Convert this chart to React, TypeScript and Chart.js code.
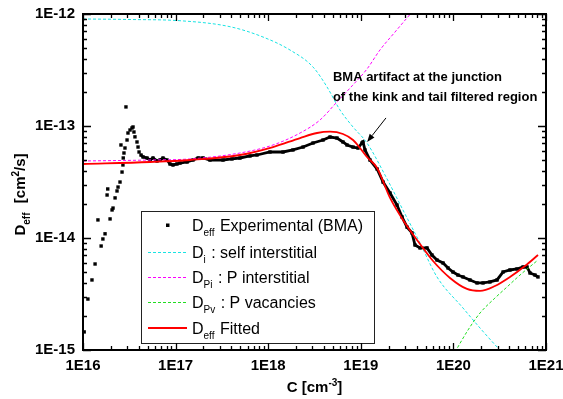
import React, { useEffect, useRef } from 'react';
import { Chart, registerables } from 'chart.js';

Chart.register(...registerables);

const FF = '"Liberation Sans", Arial, Helvetica, sans-serif';

// ---- Axis ticks ----
const xTickValues = [1e16, 1e17, 1e18, 1e19, 1e20, 1e21];
const xTickLabels = ['1E16', '1E17', '1E18', '1E19', '1E20', '1E21'];
const yTickValues = [1e-15, 1e-14, 1e-13, 1e-12];
const yTickLabels = ['1E-15', '1E-14', '1E-13', '1E-12'];

// ---- Experimental (BMA) ----
const expC = [
  1.03e16, 1.13e16, 1.25e16, 1.35e16, 1.45e16, 1.57e16, 1.64e16, 1.73e16, 1.82e16, 1.85e16,
  1.96e16, 2.06e16, 2.11e16, 2.22e16, 2.33e16, 2.39e16, 2.51e16, 2.57e16, 2.64e16, 2.70e16,
  2.72e16, 2.77e16, 2.84e16, 2.91e16, 2.99e16, 3.06e16, 3.22e16, 3.38e16, 3.47e16, 3.55e16,
  3.64e16, 3.83e16, 3.93e16, 4.03e16, 4.23e16, 4.45e16, 4.91e16, 5.29e16, 5.70e16, 6.30e16,
  6.78e16, 7.31e16, 8.07e16, 8.70e16, 9.37e16, 1.035e17, 1.115e17, 1.33e17, 1.54e17, 1.75e17,
  1.98e17, 2.35e17, 3.25e17, 4.06e17, 4.95e17, 6.36e17, 7.57e17, 1.045e18, 1.445e18, 1.85e18,
  2.38e18, 3.05e18, 3.91e18, 4.65e18, 5.53e18, 6.42e18, 7.10e18, 8.24e18, 9.33e18, 1.03e19,
  1.056e19, 1.11e19, 1.257e19, 1.50e19, 1.74e19, 2.07e19, 2.46e19, 2.79e19, 3.16e19, 3.57e19,
  3.85e19, 4.36e19, 5.19e19, 5.87e19, 6.65e19, 7.73e19, 8.75e19, 9.9e19, 1.12e20, 1.27e20,
  1.51e20, 1.80e20, 2.09e20, 2.48e20, 2.96e20, 3.44e20, 4.08e20, 4.86e20, 5.65e20, 6.24e20,
  6.72e20, 7.60e20, 8.20e20,
];
const expD = [
  1.45e-15, 2.85e-15, 4.22e-15, 5.86e-15, 1.45e-14, 8.48e-15, 9.80e-15, 1.09e-14, 2.42e-14, 2.74e-14,
  1.48e-14, 1.78e-14, 1.85e-14, 2.28e-14, 2.63e-14, 2.85e-14, 3.16e-14, 6.77e-14, 3.88e-14, 4.49e-14,
  5.18e-14, 5.74e-14, 6.36e-14, 1.48e-13, 7.50e-14, 8.66e-14, 9.21e-14, 9.60e-14, 9.80e-14, 8.84e-14,
  8.0e-14, 7.2e-14, 6.49e-14, 5.86e-14, 5.51e-14, 5.29e-14, 5.18e-14, 4.97e-14, 5.18e-14, 4.87e-14,
  4.97e-14, 5.18e-14, 4.97e-14, 4.58e-14, 4.49e-14, 4.58e-14, 4.67e-14, 4.77e-14, 4.97e-14, 5.18e-14,
  5.18e-14, 4.97e-14, 4.97e-14, 5.08e-14, 5.18e-14, 5.40e-14, 5.51e-14, 5.86e-14, 5.86e-14, 6.11e-14,
  6.49e-14, 7.05e-14, 7.50e-14, 7.97e-14, 7.81e-14, 7.20e-14, 6.77e-14, 6.49e-14, 6.36e-14, 7.05e-14,
  7.20e-14, 6.11e-14, 4.97e-14, 4.13e-14, 3.16e-14, 2.52e-14, 1.97e-14, 1.54e-14, 1.25e-14, 1.11e-14,
  8.66e-15, 8.15e-15, 8.15e-15, 7.05e-15, 6.36e-15, 5.98e-15, 5.40e-15, 4.97e-15, 4.67e-15, 4.49e-15,
  4.22e-15, 3.97e-15, 3.97e-15, 4.05e-15, 4.22e-15, 4.97e-15, 5.18e-15, 5.29e-15, 5.51e-15, 5.51e-15,
  4.87e-15, 4.67e-15, 4.49e-15,
];

// ---- D_i : self interstitial ----
const diC = [1e16, 3.22e16, 1.115e17, 3.87e17, 8.79e17, 1.72e18, 3.05e18, 4.32e18, 5.96e18, 8.24e18,
  1.167e19, 1.825e19, 3.00e19, 4.36e19, 6.65e19, 1.27e20, 1.94e20, 3.18e20, 4.62e20];
const diD = [9.03e-13, 8.93e-13, 8.71e-13, 7.70e-13, 6.23e-13, 4.77e-13, 3.36e-13, 2.23e-13, 1.39e-13, 9.80e-14,
  7.05e-14, 3.65e-14, 1.64e-14, 9.03e-15, 4.49e-15, 2.37e-15, 1.57e-15, 1.0e-15, 7.35e-16];

// ---- D_Pi : P interstitial ----
const dpiC = [1e16, 5.29e16, 1.43e17, 4.95e17, 1.127e18, 2.21e18, 3.62e18, 5.53e18, 8.04e18, 1.167e19,
  1.61e19, 2.34e19, 3.57e19];
const dpiD = [4.87e-14, 4.97e-14, 5.08e-14, 5.74e-14, 6.77e-14, 8.66e-14, 1.13e-13, 1.64e-13, 2.28e-13, 3.23e-13,
  4.77e-13, 6.90e-13, 1.04e-12];

// ---- D_Pv : P vacancies ----
const dpvC = [1.04e20, 1.44e20, 1.94e20, 2.81e20, 3.79e20, 5.24e20, 8.20e20];
const dpvD = [9.59e-16, 1.51e-15, 2.14e-15, 2.91e-15, 3.65e-15, 4.67e-15, 6.36e-15];

// ---- D_eff fitted ----
const fitC = [1e16, 5.29e16, 1.43e17, 4.95e17, 1.127e18, 2.21e18, 3.37e18, 4.65e18, 6.42e18, 8.24e18,
  9.80e18, 1.167e19, 1.50e19, 2.07e19, 3.00e19, 4.36e19, 6.03e19, 9.19e19, 1.40e20, 1.94e20,
  2.81e20, 4.08e20, 5.93e20, 8.20e20];
const fitD = [4.58e-14, 4.77e-14, 4.97e-14, 5.51e-14, 6.49e-14, 7.81e-14, 8.66e-14, 8.89e-14, 8.48e-14, 7.50e-14,
  6.36e-14, 5.29e-14, 4.22e-14, 2.28e-14, 1.36e-14, 8.84e-15, 6.23e-15, 4.40e-15, 3.51e-15, 3.37e-15,
  3.73e-15, 4.49e-15, 5.62e-15, 7.05e-15];

// ---- Annotation ----
const noteLines = ['BMA artifact at the junction', 'of the kink and tail filtered region'];
const noteAnchorC = 5.0e18;
const noteLineD = [2.52e-13, 1.67e-13];
const arrowTail = { x: 1.87e19, y: 1.18e-13 };
const arrowTip = { x: 1.17e19, y: 7.2e-14 };

type Seg = { t: string; sub?: boolean; sup?: boolean };
const legendRows: { kind: 'point' | 'line'; color: string; dash: number[]; label: Seg[] }[] = [
  { kind: 'point', color: '#000000', dash: [], label: [{ t: 'D' }, { t: 'eff', sub: true }, { t: ' Experimental (BMA)' }] },
  { kind: 'line', color: '#19e3e3', dash: [3, 2], label: [{ t: 'D' }, { t: 'i', sub: true }, { t: ' : self interstitial' }] },
  { kind: 'line', color: '#ff00ff', dash: [3, 2], label: [{ t: 'D' }, { t: 'Pi', sub: true }, { t: ' : P interstitial' }] },
  { kind: 'line', color: '#22dd22', dash: [3, 2], label: [{ t: 'D' }, { t: 'Pv', sub: true }, { t: ' : P vacancies' }] },
  { kind: 'line', color: '#ff0000', dash: [], label: [{ t: 'D' }, { t: 'eff', sub: true }, { t: ' Fitted' }] },
];
const xTitle: Seg[] = [{ t: 'C [cm' }, { t: '-3', sup: true }, { t: ']' }];
const yTitle: Seg[] = [{ t: 'D' }, { t: 'eff', sub: true }, { t: '  [cm' }, { t: '2', sup: true }, { t: '/s]' }];

const toPts = (xs: number[], ys: number[]) => xs.map((x, i) => ({ x, y: ys[i] }));

function segFont(s: Seg, size: number, small: number, bold: boolean) {
  return `${bold ? 'bold ' : ''}${s.sub || s.sup ? small : size}px ${FF}`;
}
function richWidth(ctx: CanvasRenderingContext2D, segs: Seg[], size: number, small: number, bold: boolean) {
  let w = 0;
  for (const s of segs) {
    ctx.font = segFont(s, size, small, bold);
    w += ctx.measureText(s.t).width;
  }
  return w;
}
function drawRich(ctx: CanvasRenderingContext2D, segs: Seg[], x: number, y: number, size: number, small: number, bold: boolean) {
  let cx = x;
  for (const s of segs) {
    ctx.font = segFont(s, size, small, bold);
    const dy = s.sub ? size * 0.33 : s.sup ? -size * 0.42 : 0;
    ctx.fillText(s.t, cx, y + dy);
    cx += ctx.measureText(s.t).width + (s.sub ? 1 : 0);
  }
}

const decor = {
  id: 'decor',
  afterDraw(chart: any) {
    const { ctx, chartArea, scales } = chart;
    const { left, right, top, bottom } = chartArea;
    const xs = scales.x;
    const ys = scales.y;
    ctx.save();

    // Legend
    const lx0 = 141, ly0 = 211, lx1 = 374, ly1 = 343;
    ctx.fillStyle = '#ffffff';
    ctx.fillRect(lx0, ly0, lx1 - lx0, ly1 - ly0);
    ctx.strokeStyle = '#222';
    ctx.lineWidth = 1;
    ctx.setLineDash([]);
    ctx.strokeRect(lx0 + 0.5, ly0 + 0.5, lx1 - lx0, ly1 - ly0);
    const rowY = [225, 252, 277, 302, 328];
    legendRows.forEach((r, i) => {
      const cy = rowY[i];
      if (r.kind === 'point') {
        ctx.fillStyle = r.color;
        ctx.fillRect(166, cy - 1.5, 3.5, 3.5);
      } else {
        ctx.strokeStyle = r.color;
        const dashed = r.dash.length > 0;
        ctx.lineWidth = dashed ? 1.2 : 1.8;
        ctx.setLineDash(r.dash);
        ctx.beginPath();
        ctx.moveTo(148, cy + (dashed ? 0.5 : 0));
        ctx.lineTo(187, cy + (dashed ? 0.5 : 0));
        ctx.stroke();
        ctx.setLineDash([]);
      }
      ctx.fillStyle = '#000';
      ctx.textAlign = 'left';
      ctx.textBaseline = 'alphabetic';
      drawRich(ctx, r.label, 192, cy + 6, 16, 10, false);
    });

    // Annotation text
    ctx.fillStyle = '#000';
    ctx.font = `bold 13px ${FF}`;
    ctx.textAlign = 'left';
    ctx.textBaseline = 'alphabetic';
    const tx = xs.getPixelForValue(noteAnchorC);
    noteLines.forEach((t, i) => ctx.fillText(t, tx, ys.getPixelForValue(noteLineD[i])));

    // Arrow
    const ax0 = xs.getPixelForValue(arrowTail.x), ay0 = ys.getPixelForValue(arrowTail.y);
    const ax1 = xs.getPixelForValue(arrowTip.x), ay1 = ys.getPixelForValue(arrowTip.y);
    const ang = Math.atan2(ay1 - ay0, ax1 - ax0);
    const hl = 8, hw = 3;
    const bx = ax1 - hl * Math.cos(ang), by = ay1 - hl * Math.sin(ang);
    ctx.strokeStyle = '#000';
    ctx.lineWidth = 1;
    ctx.beginPath();
    ctx.moveTo(ax0, ay0);
    ctx.lineTo(bx, by);
    ctx.stroke();
    ctx.beginPath();
    ctx.moveTo(ax1, ay1);
    ctx.lineTo(bx + hw * Math.sin(ang), by - hw * Math.cos(ang));
    ctx.lineTo(bx - hw * Math.sin(ang), by + hw * Math.cos(ang));
    ctx.closePath();
    ctx.fill();

    // Ticks (inside, all four sides)
    ctx.strokeStyle = '#000';
    ctx.lineWidth = 1.3;
    ctx.beginPath();
    for (let e = 16; e <= 21; e++) {
      for (let m = 1; m <= 9; m++) {
        const v = m * Math.pow(10, e);
        if (v > 1.0001e21) break;
        const px = Math.round(xs.getPixelForValue(v)) + 0.5;
        const len = m === 1 ? 7 : 4;
        ctx.moveTo(px, bottom); ctx.lineTo(px, bottom - len);
        ctx.moveTo(px, top); ctx.lineTo(px, top + len);
      }
    }
    for (let e = -15; e <= -12; e++) {
      for (let m = 1; m <= 9; m++) {
        const v = m * Math.pow(10, e);
        if (v > 1.0001e-12) break;
        const py = Math.round(ys.getPixelForValue(v)) + 0.5;
        const len = m === 1 ? 8 : 4;
        ctx.moveTo(left, py); ctx.lineTo(left + len, py);
        ctx.moveTo(right, py); ctx.lineTo(right - len, py);
      }
    }
    ctx.stroke();

    // Frame
    ctx.lineWidth = 2;
    ctx.strokeRect(left, top, right - left, bottom - top);

    // Axis titles
    ctx.fillStyle = '#000';
    const wx = richWidth(ctx, xTitle, 15, 10, true);
    drawRich(ctx, xTitle, (left + right) / 2 - wx / 2, 392, 15, 10, true);
    const wy = richWidth(ctx, yTitle, 15, 10, true);
    ctx.translate(25, 195);
    ctx.rotate(-Math.PI / 2);
    drawRich(ctx, yTitle, -wy / 2, 0, 15, 10, true);

    ctx.restore();
  },
};

export default function App() {
  const ref = useRef<HTMLCanvasElement>(null);
  useEffect(() => {
    document.body.style.margin = '0';
    const lineBase = { pointRadius: 0, fill: false, cubicInterpolationMode: 'monotone' as const };
    const chart = new Chart(ref.current as HTMLCanvasElement, {
      type: 'line',
      data: {
        datasets: [
          { ...lineBase, label: 'Deff Fitted', data: toPts(fitC, fitD), borderColor: '#ff0000', borderWidth: 1.8 },
          { ...lineBase, label: 'DPi', data: toPts(dpiC, dpiD), borderColor: '#ff00ff', borderWidth: 1, borderDash: [3, 2] },
          { ...lineBase, label: 'Di', data: toPts(diC, diD), borderColor: '#19e3e3', borderWidth: 1, borderDash: [3, 2] },
          { ...lineBase, label: 'DPv', data: toPts(dpvC, dpvD), borderColor: '#22dd22', borderWidth: 1, borderDash: [3, 2] },
          {
            label: 'Deff Experimental (BMA)',
            data: toPts(expC, expD),
            showLine: true,
            borderColor: '#000',
            borderWidth: 2.8,
            tension: 0,
            segment: {
              borderColor: (c: any) => (c.p0.parsed.x >= 4.2e16 ? '#000000' : 'rgba(0,0,0,0)'),
            },
            pointStyle: 'rect',
            pointRadius: 2.4,
            pointBackgroundColor: '#000',
            pointBorderWidth: 0,
            fill: false,
          } as any,
        ],
      },
      options: {
        responsive: false,
        animation: false,
        events: [],
        layout: { padding: { top: 14, right: 17, left: 0, bottom: 0 } },
        plugins: { legend: { display: false }, tooltip: { enabled: false } },
        scales: {
          x: {
            type: 'logarithmic',
            min: 1e16,
            max: 1e21,
            border: { display: false },
            grid: { display: false, drawTicks: false },
            afterBuildTicks: (s: any) => { s.ticks = xTickValues.map((v) => ({ value: v })); },
            afterFit: (s: any) => { s.height = 49; s.paddingLeft = 0; s.paddingRight = 0; },
            ticks: {
              autoSkip: false,
              maxRotation: 0,
              padding: 7,
              color: '#000',
              font: { family: FF, size: 15, weight: 'bold' },
              callback: (v: any) => {
                const i = xTickValues.findIndex((t) => Math.abs(Math.log10(t) - Math.log10(Number(v))) < 1e-6);
                return i >= 0 ? xTickLabels[i] : '';
              },
            },
          },
          y: {
            type: 'logarithmic',
            min: 1e-15,
            max: 1e-12,
            border: { display: false },
            grid: { display: false, drawTicks: false },
            afterBuildTicks: (s: any) => { s.ticks = yTickValues.map((v) => ({ value: v })); },
            afterFit: (s: any) => { s.width = 83; s.paddingTop = 0; s.paddingBottom = 0; },
            ticks: {
              autoSkip: false,
              padding: 8,
              color: '#000',
              font: { family: FF, size: 15, weight: 'bold' },
              callback: (v: any) => {
                const i = yTickValues.findIndex((t) => Math.abs(Math.log10(t) - Math.log10(Number(v))) < 1e-6);
                return i >= 0 ? yTickLabels[i] : '';
              },
            },
          },
        },
      },
      plugins: [decor],
    });
    return () => chart.destroy();
  }, []);
  return (
    <div style={{ position: 'absolute', left: 0, top: 0, width: 563, height: 399, background: '#fff' }}>
      <canvas ref={ref} width={563} height={399} style={{ display: 'block' }} />
    </div>
  );
}
